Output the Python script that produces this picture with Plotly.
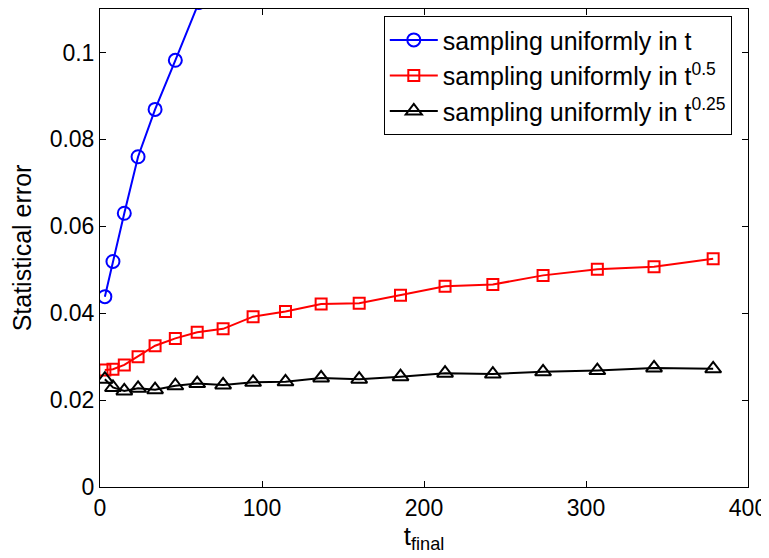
import plotly.graph_objects as go

t_final = [3, 8, 15, 23.5, 34, 46.5, 60, 76, 94.5, 114.5, 136.5, 160, 185.5,
           213, 242.5, 273.5, 307, 342, 378.5]

# sampling uniformly in t (only the first points are inside the visible range)
t_blue = [3, 8, 15, 23.5, 34, 46.5, 61]
err_t = [0.0438, 0.0519, 0.0630, 0.0760, 0.0869, 0.0982, 0.1115]

err_t05 = [0.0269, 0.0271, 0.0281, 0.0300, 0.0325, 0.0342, 0.0356, 0.0364,
           0.0392, 0.0404, 0.0421, 0.0423, 0.0441, 0.0462, 0.0466, 0.0487,
           0.0501, 0.0507, 0.0525]

err_t025 = [0.0248, 0.0229, 0.0221, 0.0227, 0.0224, 0.0233, 0.0238, 0.0235,
            0.0241, 0.0242, 0.0251, 0.0248, 0.0254, 0.0262, 0.0260, 0.0265,
            0.0268, 0.0274, 0.0272]

names = ["sampling uniformly in t",
         "sampling uniformly in t<sup>0.5</sup>",
         "sampling uniformly in t<sup>0.25</sup>"]

fig = go.Figure()
fig.add_trace(go.Scatter(x=t_blue, y=err_t, mode="lines+markers", name=names[0],
                         line=dict(color="#0000ff", width=2),
                         marker=dict(symbol="circle-open", size=13,
                                     line=dict(width=2, color="#0000ff"))))
fig.add_trace(go.Scatter(x=t_final, y=err_t05, mode="lines+markers", name=names[1],
                         line=dict(color="#ff0000", width=2),
                         marker=dict(symbol="square-open", size=11,
                                     line=dict(width=2, color="#ff0000"))))
fig.add_trace(go.Scatter(x=t_final, y=err_t025, mode="lines+markers", name=names[2],
                         line=dict(color="#000000", width=2),
                         marker=dict(symbol="triangle-up-open", size=14,
                                     line=dict(width=2, color="#000000"))))

ff = "Liberation Sans, Arial, sans-serif"

# the page body has an 8px margin, so the figure is offset by (8, 8)
fig.update_layout(
    template="none",
    width=761, height=550,
    margin=dict(l=92, r=21, t=1, b=71),
    paper_bgcolor="white", plot_bgcolor="white",
    font=dict(family=ff, size=23, color="black"),
    showlegend=True,
    legend=dict(x=0.975, y=0.985, xanchor="right", yanchor="top",
                bordercolor="black", borderwidth=1, bgcolor="white",
                font=dict(family=ff, size=25, color="black"),
                tracegroupgap=0, itemwidth=48),
    xaxis=dict(range=[0, 400], tickvals=[0, 100, 200, 300, 400],
               showgrid=False, zeroline=False, showline=True, linecolor="black",
               linewidth=1, mirror="ticks", ticks="inside", ticklen=6,
               tickcolor="black", automargin=False,
               title=dict(text="t<sub>final</sub>", standoff=0,
                          font=dict(size=26))),
    yaxis=dict(range=[0, 0.11], tickvals=[0, 0.02, 0.04, 0.06, 0.08, 0.1],
               ticktext=["0", "0.02", "0.04", "0.06", "0.08", "0.1"],
               showgrid=False, zeroline=False, showline=True, linecolor="black",
               linewidth=1, mirror="ticks", ticks="inside", ticklen=6,
               tickcolor="black", automargin=False,
               title=dict(text="Statistical error", standoff=10,
                          font=dict(size=25))),
)

fig.write_html("out.html")
